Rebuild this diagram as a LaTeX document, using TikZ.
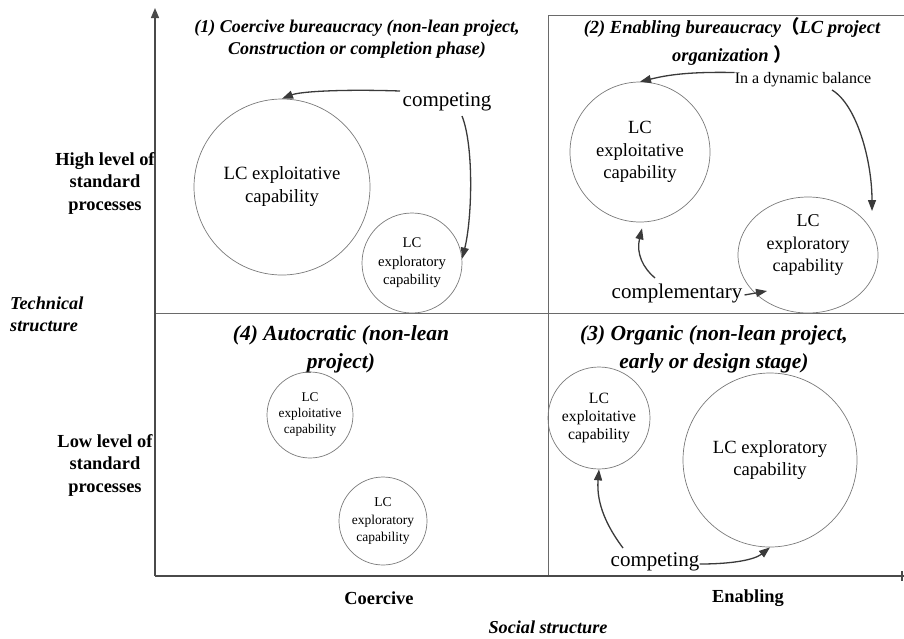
\documentclass[tikz,border=0pt]{standalone}
\usepackage{fontspec}
\setmainfont{Liberation Serif}
\newfontfamily\cjkfont{Noto Sans CJK SC}
\usetikzlibrary{arrows.meta,shapes.geometric}
\definecolor{axisgray}{HTML}{4A4A4A}
\definecolor{divgray}{HTML}{6A6A6A}
\definecolor{circgray}{HTML}{7A7A7A}
\definecolor{arrowgray}{HTML}{3A3A3A}
\newcommand\setfs[2]{\fontsize{#1}{#2}\selectfont}
\begin{document}
\begin{tikzpicture}[x=1pt,y=-1pt,
  axisline/.style={draw=axisgray,line width=1.4pt},
  divline/.style={draw=divgray,line width=1pt},
  capcirc/.style={circle,draw=circgray,line width=0.7pt,inner sep=0pt,align=center,text=black},
  capellipse/.style={ellipse,draw=circgray,line width=0.7pt,inner sep=0pt},
  conn/.style={draw=arrowgray,line width=1.3pt,-{Triangle[length=11pt,width=8pt]}},
  lbl/.style={inner sep=0pt,align=center},
  qtitle/.style={lbl,font=\bfseries\itshape},
]
\useasboundingbox (0,0) rectangle (904,638);

% axes and dividers
\coordinate (O) at (155,576);
\coordinate (Ytop) at (155,8);
\coordinate (Xend) at (904,576);
\coordinate (Htop) at (548,15);
\coordinate (Hbot) at (548,576);
\coordinate (Mleft) at (155,313);
\coordinate (Mright) at (904,313);
\coordinate (TR) at (904,15);
\coordinate (TickA) at (902,571);
\coordinate (TickB) at (902,581);

\draw[divline] (Mleft) -- (Mright);
\draw[divline] (Hbot) -- (Htop) -- (TR);
\draw[axisline,-{Triangle[length=10pt,width=8pt]}] (O) -- (Ytop);
\draw[axisline] (O) -- (Xend);
\draw[axisline] (TickA) -- (TickB);

% quadrant titles
\node[qtitle,font=\bfseries\itshape\setfs{18}{22}] (t1) at (357,39)
  {(1) Coercive bureaucracy (non-lean project,\\Construction or completion phase)};
\node[qtitle,font=\bfseries\itshape\setfs{18.5}{22}] (t2) at (732,41)
  {(2) Enabling bureaucracy{\cjkfont（}LC project\\[6pt]organization {\cjkfont ）}};
\node[qtitle,font=\bfseries\itshape\setfs{21.5}{28}] (t3) at (714,349)
  {(3) Organic (non-lean project,\\early or design stage)};
\node[qtitle,font=\bfseries\itshape\setfs{21.5}{28}] (t4) at (341,349)
  {(4) Autocratic (non-lean\\project)};

% axis labels
\node[lbl,font=\bfseries\setfs{18.4}{22.5}] (hi) at (105,183) {High level of\\standard\\processes};
\node[lbl,font=\bfseries\setfs{18.4}{22.5}] (lo) at (105,465) {Low level of\\standard\\processes};
\node[lbl,align=left,anchor=west,font=\bfseries\itshape\setfs{18.2}{22}] (tech) at (10,314) {Technical\\structure};
\node[lbl,font=\bfseries\setfs{18.4}{22}] (coer) at (379,598) {Coercive};
\node[lbl,font=\bfseries\setfs{18.4}{22}] (enab) at (748,598) {Enabling};
\node[lbl,font=\bfseries\itshape\setfs{18.2}{22}] (soc) at (548,627) {Social structure};

% quadrant 1
\node[capcirc,minimum size=176pt,font=\setfs{18.7}{23}] (c1a) at (282,187) {LC exploitative\\capability};
\node[capcirc,minimum size=100pt,font=\setfs{14.7}{18.5}] (c1b) at (412,263) {LC\\exploratory\\capability};
\node[lbl,font=\setfs{21}{25}] (comp1) at (447,102) {competing};
\draw[conn] ([shift={(-47,-11)}]comp1.center) .. controls +(-60,-2) and +(18,-7) .. (c1a.north);
\draw[conn] ([shift={(15,14)}]comp1.center) .. controls +(12,30) and +(10,-40) .. (c1b.5);

% quadrant 2
\node[capcirc,minimum size=140pt,font=\setfs{18.6}{22.5}] (c2a) at (640,152) {LC\\exploitative\\capability};
\node[capellipse,minimum width=140pt,minimum height=116pt] (c2b) at (808,255) {};
\node[lbl,font=\setfs{18}{22.5}] (c2btext) at (808,245) {LC\\exploratory\\capability};
\node[lbl,font=\setfs{16}{19}] (dyn) at (803,80) {In a dynamic balance};
\node[lbl,font=\setfs{21}{25}] (comp2) at (677,293) {complementary};
\draw[conn] (dyn.north west) .. controls +(-50,-1) and +(25,-6) .. (c2a.north);
\draw[conn] ([shift={(29,10)}]dyn.center) .. controls +(25,15) and +(0,-50) .. ([shift={(64,-44)}]c2b.center);
\draw[conn] ([shift={(-22,-15)}]comp2.center) .. controls +(-12,-10) and +(-6,25) .. ([shift={(2,6)}]c2a.south);
\draw[conn] ([shift={(2,2)}]comp2.east) -- ([shift={(-41,36)}]c2b.center);

% quadrant 3
\node[capcirc,minimum size=102pt,font=\setfs{15.7}{18}] (c3a) at (599,418) {LC\\exploitative\\capability};
\node[capcirc,minimum size=174pt,font=\setfs{18.6}{22}] (c3b) at (770,460) {LC exploratory\\capability};
\node[lbl,font=\setfs{21}{25}] (comp3) at (655,562) {competing};
\draw[conn] ([shift={(-32,-14)}]comp3.center) .. controls +(-15,-20) and +(-3,35) .. (c3a.south);
\draw[conn] ([shift={(0,2)}]comp3.east) .. controls +(35,0) and +(-15,12) .. (c3b.south);

% quadrant 4
\node[capcirc,minimum size=86pt,font=\setfs{13.3}{16}] (c4a) at (310,415) {LC\\exploitative\\capability};
\node[capcirc,minimum size=88pt,font=\setfs{13.5}{17.5}] (c4b) at (383,521) {LC\\exploratory\\capability};
\end{tikzpicture}
\end{document}
